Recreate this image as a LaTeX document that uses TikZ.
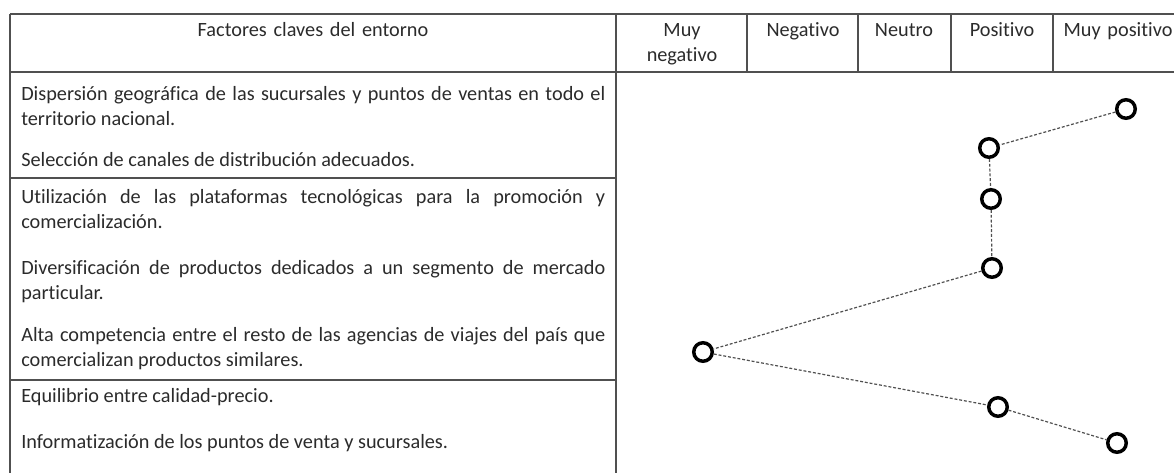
\documentclass[tikz,border=0pt]{standalone}
\usepackage{fontspec}
\setmainfont{Carlito}[Ligatures=NoCommon]
\definecolor{rulecol}{HTML}{505050}
\definecolor{txtcol}{HTML}{2B2B2B}
\begin{document}
\begin{tikzpicture}[x=0.75pt,y=-0.75pt,
  every node/.style={font=\fontsize{15.2}{18.6}\selectfont,text=txtcol,inner sep=0pt},
  rule/.style={draw=rulecol,line width=1.1pt},
  head/.style={anchor=base,text width=300pt,align=center},
  factor/.style={anchor=base west,text width=438pt,align=justify},
  ring/.style={circle,draw=black,line width=2.6pt,minimum size=13.9pt},
  link/.style={draw=rulecol,line width=0.9pt,dash pattern=on 2.2pt off 1.4pt}]
\useasboundingbox (0,0) rectangle (1174,473);
\draw[rule] (10,14) -- (1174,14) (10,72) -- (1174,72);
\draw[rule] (10,14) -- (10,473) (616,14) -- (616,473);
\foreach \x in {747,858,951,1053}
  \draw[rule] (\x,14) -- (\x,72);
\draw[rule] (10,178) -- (616,178) (10,380) -- (616,380);
\node[head] (hfac) at (313,37) {Factores claves del entorno};
\node[head] (hmneg) at (682,37) {Muy\\negativo};
\node[head] (hneg) at (803,37) {Negativo};
\node[head] (hneu) at (904,37) {Neutro};
\node[head] (hpos) at (1002,37) {Positivo};
\node[head] (hmpos) at (1118,37) {Muy positivo};
\node[factor] (f1) at (21,101) {Dispersión geográfica de las sucursales y puntos de ventas en todo el\linebreak territorio nacional.};
\node[factor] (f2) at (21,167) {Selección de canales de distribución adecuados.};
\node[factor] (f3) at (21,204) {Utilización de las plataformas tecnológicas para la promoción y\linebreak comercialización.};
\node[factor] (f4) at (21,275) {Diversificación de productos dedicados a un segmento de mercado\linebreak particular.};
\node[factor] (f5) at (21,342) {Alta competencia entre el resto de las agencias de viajes del país que\linebreak comercializan productos similares.};
\node[factor] (f6) at (21,403) {Equilibrio entre calidad-precio.};
\node[factor] (f7) at (21,449) {Informatización de los puntos de venta y sucursales.};
\node[ring] (p1) at (1126,109) {};
\node[ring] (p2) at (989,148) {};
\node[ring] (p3) at (991,199) {};
\node[ring] (p4) at (992,268) {};
\node[ring] (p5) at (703,352) {};
\node[ring] (p6) at (998,407) {};
\node[ring] (p7) at (1117,443) {};
\draw[link] (p1) -- (p2) -- (p3) -- (p4) -- (p5) -- (p6) -- (p7);
\end{tikzpicture}
\end{document}
